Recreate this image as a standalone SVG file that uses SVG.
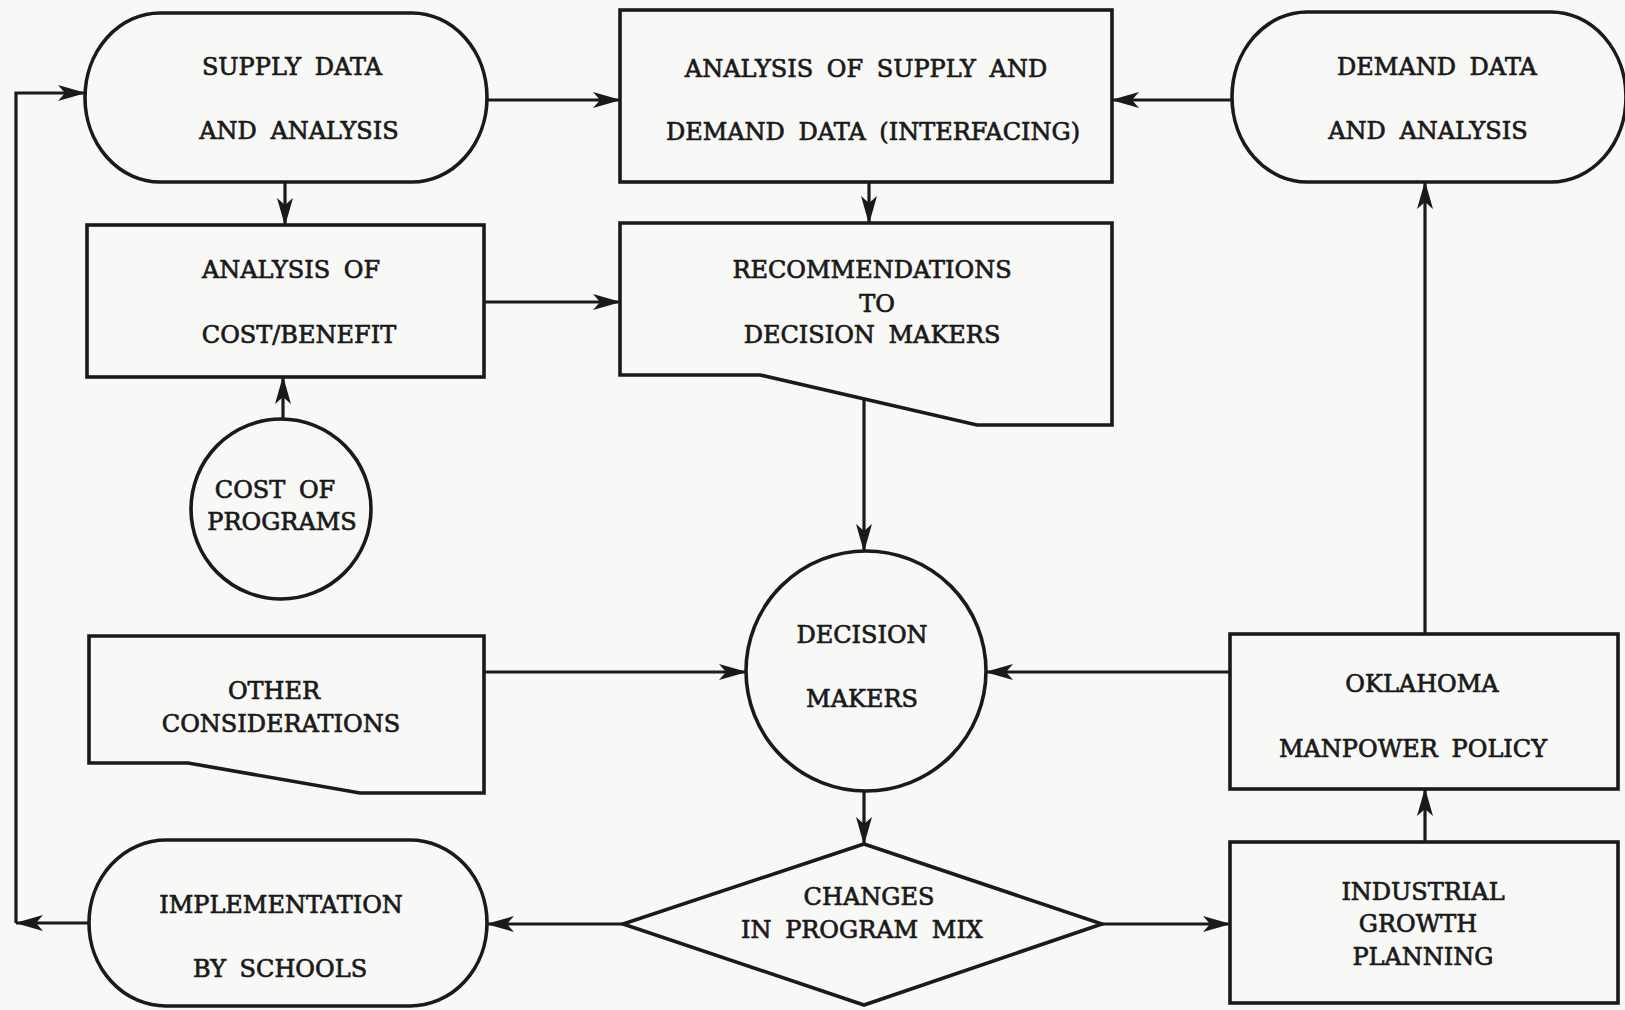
<svg xmlns="http://www.w3.org/2000/svg" width="1625" height="1010" viewBox="0 0 1625 1010">
<defs>
<style>
.s{fill:none;stroke:#1a1a1a;stroke-width:3.6;stroke-linejoin:miter}
.c{fill:none;stroke:#1a1a1a;stroke-width:3.2}
.t{font-family:"DejaVu Serif","Liberation Serif",serif;font-size:24px;word-spacing:6px;fill:#1a1a1a;stroke:#1a1a1a;stroke-width:0.7;text-anchor:middle}
</style>
<marker id="ah" viewBox="0 0 28 16" markerWidth="28" markerHeight="16" refX="27" refY="8" orient="auto" markerUnits="userSpaceOnUse">
<path d="M0,0 L28,8 L0,16 L7,8 Z" fill="#1a1a1a"/>
</marker>
</defs>
<rect width="1625" height="1010" fill="#f8f8f6"/>

<g id="connectors">
<path class="c" d="M89,923 L16,923" marker-end="url(#ah)"/>
<path class="c" d="M16,923 L16,93 L85,93" marker-end="url(#ah)"/>
<path class="c" d="M487,100 L620,100" marker-end="url(#ah)"/>
<path class="c" d="M1232,100 L1112,100" marker-end="url(#ah)"/>
<path class="c" d="M285,182 L285,225" marker-end="url(#ah)"/>
<path class="c" d="M869,182 L869,223" marker-end="url(#ah)"/>
<path class="c" d="M484,302 L620,302" marker-end="url(#ah)"/>
<path class="c" d="M283,419 L283,377" marker-end="url(#ah)"/>
<path class="c" d="M864,399 L864,551" marker-end="url(#ah)"/>
<path class="c" d="M484,672 L746,672" marker-end="url(#ah)"/>
<path class="c" d="M1230,672 L986,672" marker-end="url(#ah)"/>
<path class="c" d="M864,791 L864,844" marker-end="url(#ah)"/>
<path class="c" d="M623,924 L487,924" marker-end="url(#ah)"/>
<path class="c" d="M1102,924 L1230,924" marker-end="url(#ah)"/>
<path class="c" d="M1425,842 L1425,789" marker-end="url(#ah)"/>
<path class="c" d="M1425,634 L1425,182" marker-end="url(#ah)"/>
</g>

<g id="supply">
<rect class="s" x="85" y="13" width="402" height="169" rx="75" ry="84.5"/>
<text class="t" x="292" y="75">SUPPLY DATA</text>
<text class="t" x="299" y="139">AND ANALYSIS</text>
</g>

<g id="analysis">
<rect class="s" x="620" y="10" width="492" height="172"/>
<text class="t" x="866" y="77">ANALYSIS OF SUPPLY AND</text>
<text class="t" x="873" y="140">DEMAND DATA (INTERFACING)</text>
</g>

<g id="demand">
<rect class="s" x="1232" y="12" width="394" height="170" rx="75" ry="85"/>
<text class="t" x="1437" y="75">DEMAND DATA</text>
<text class="t" x="1428" y="139">AND ANALYSIS</text>
</g>

<g id="costbenefit">
<rect class="s" x="87" y="225" width="397" height="152"/>
<text class="t" x="291" y="278">ANALYSIS OF</text>
<text class="t" x="299" y="343">COST/BENEFIT</text>
</g>

<g id="recommendations">
<path class="s" d="M620,223 L1112,223 L1112,425 L977,425 L760,375 L620,375 Z"/>
<text class="t" x="872" y="278">RECOMMENDATIONS</text>
<text class="t" x="877" y="312">TO</text>
<text class="t" x="872" y="343">DECISION MAKERS</text>
</g>

<g id="costprograms">
<circle class="s" cx="281" cy="509" r="90"/>
<text class="t" x="275" y="498">COST OF</text>
<text class="t" x="282" y="530">PROGRAMS</text>
</g>

<g id="other">
<path class="s" d="M89,636 L484,636 L484,793 L360,793 L188,763 L89,763 Z"/>
<text class="t" x="274" y="699">OTHER</text>
<text class="t" x="281" y="732">CONSIDERATIONS</text>
</g>

<g id="decision">
<circle class="s" cx="866" cy="671" r="120"/>
<text class="t" x="862" y="643">DECISION</text>
<text class="t" x="862" y="707">MAKERS</text>
</g>

<g id="oklahoma">
<rect class="s" x="1230" y="634" width="388" height="155"/>
<text class="t" x="1422" y="692">OKLAHOMA</text>
<text class="t" x="1413" y="757">MANPOWER POLICY</text>
</g>

<g id="changes">
<path class="s" d="M864,844 L1102,924 L864,1005 L623,924 Z"/>
<text class="t" x="869" y="905">CHANGES</text>
<text class="t" x="862" y="938">IN PROGRAM MIX</text>
</g>

<g id="implementation">
<rect class="s" x="89" y="840" width="398" height="166" rx="77" ry="83"/>
<text class="t" x="281" y="913">IMPLEMENTATION</text>
<text class="t" x="280" y="977">BY SCHOOLS</text>
</g>

<g id="industrial">
<rect class="s" x="1230" y="842" width="388" height="161"/>
<text class="t" x="1423" y="900">INDUSTRIAL</text>
<text class="t" x="1418" y="932">GROWTH</text>
<text class="t" x="1423" y="965">PLANNING</text>
</g>
</svg>
